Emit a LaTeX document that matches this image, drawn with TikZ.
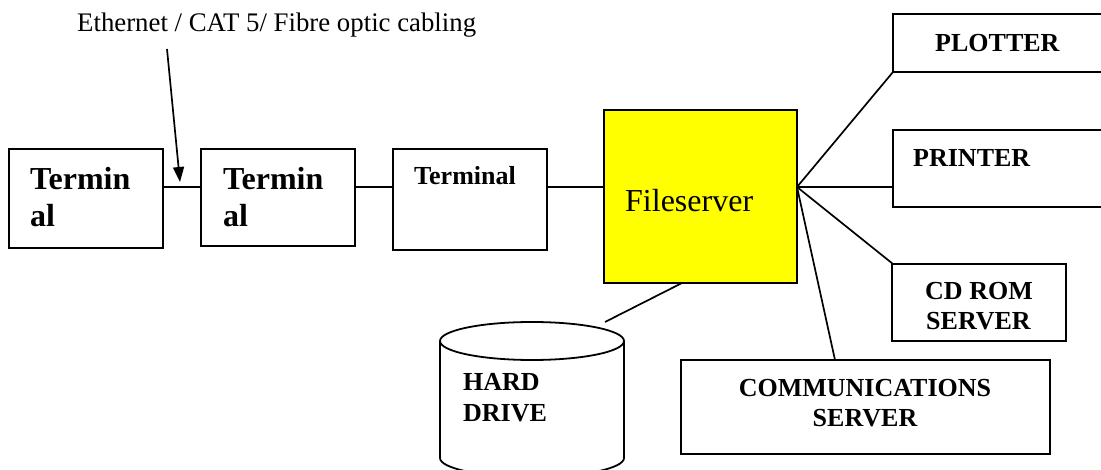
\documentclass[tikz,border=0pt]{standalone}
\usepackage{fontspec}
\setmainfont{Liberation Serif}
\usetikzlibrary{arrows.meta}
\definecolor{fsyellow}{RGB}{255,255,0}
\begin{document}
\begin{tikzpicture}[x=1pt,y=-1pt,
  box/.style={draw, line width=1.9pt, inner sep=0pt, outer sep=0pt, fill=white},
  wire/.style={line width=1.7pt},
  lbl/.style={inner sep=0pt, anchor=base west, font=\bfseries\fontsize{26}{28}\selectfont},
  biglbl/.style={inner sep=0pt, anchor=base west, font=\bfseries\fontsize{32}{34}\selectfont},
  clbl/.style={inner sep=0pt, anchor=base, font=\bfseries\fontsize{26}{28}\selectfont}]
\useasboundingbox (0,0) rectangle (1101,470);
\clip (0,0) rectangle (1101,470);

% connection coordinates
\coordinate (hub) at (797,187);
\coordinate (fsbot) at (682,283);
\coordinate (disktop) at (605,322);
\coordinate (commtop) at (835,360);
\coordinate (arrstart) at (167,49);
\coordinate (arrend) at (180,182);

% wires (drawn first, behind boxes)
\draw[wire] (9,187) coordinate (w0) -- (hub) coordinate (w1);
\draw[wire] (hub) -- (893,72) coordinate (plc);
\draw[wire] (hub) -- (893,187) coordinate (prc);
\draw[wire] (hub) -- (893,264) coordinate (cdc);
\draw[wire] (hub) -- (commtop);
\draw[wire] (fsbot) -- (disktop);

% boxes
\node[box, minimum width=154pt, minimum height=99pt] (t1) at (86,198.5) {};
\node[box, minimum width=154pt, minimum height=97pt] (t2) at (278,197.5) {};
\node[box, minimum width=154pt, minimum height=101pt] (t3) at (470,199.5) {};
\node[box, fill=fsyellow, minimum width=193pt, minimum height=173pt] (fs) at (700.5,196.5) {};
\node[box, minimum width=227pt, minimum height=58pt] (plot) at (1006.5,43) {};
\node[box, minimum width=227pt, minimum height=77pt] (prn) at (1006.5,168.5) {};
\node[box, minimum width=174pt, minimum height=77pt] (cd) at (979,302.5) {};
\node[box, minimum width=369pt, minimum height=94pt] (comm) at (865.5,407) {};

% hard drive cylinder
\coordinate (disk) at (532,341);
\filldraw[fill=white, line width=1.8pt] (440,341) -- (440,458) arc[start angle=180, end angle=360, x radius=92pt, y radius=19pt] -- (624,341);
\draw[line width=1.8pt, fill=white] (disk) ellipse[x radius=92pt, y radius=19pt];

% texts
\node[inner sep=0pt, anchor=base west, font=\fontsize{26.8}{28}\selectfont] (cable) at (77,32) {Ethernet / CAT 5/ Fibre optic cabling};
\draw[line width=1.7pt, -{Triangle[length=15pt,width=11pt]}] (arrstart) -- (arrend);

\node[biglbl] (t1a) at (30,190) {Termin};
\node[biglbl] (t1b) at (30,227) {al};
\node[biglbl] (t2a) at (223,190) {Termin};
\node[biglbl] (t2b) at (223,227) {al};
\node[lbl] (t3a) at (414,185) {Terminal};
\node[inner sep=0pt, anchor=base west, font=\fontsize{32}{34}\selectfont] (fsl) at (625,212) {Fileserver};
\node[lbl] (pll) at (935,52) {PLOTTER};
\node[lbl] (prl) at (913,167) {PRINTER};
\node[lbl] (cd1) at (925,300) {CD ROM};
\node[lbl] (cd2) at (926,330) {SERVER};
\node[clbl] (cm1) at (865,397) {COMMUNICATIONS};
\node[clbl] (cm2) at (865,427) {SERVER};
\node[lbl] (hd1) at (463,391) {HARD};
\node[lbl] (hd2) at (463,421) {DRIVE};
\end{tikzpicture}
\end{document}
